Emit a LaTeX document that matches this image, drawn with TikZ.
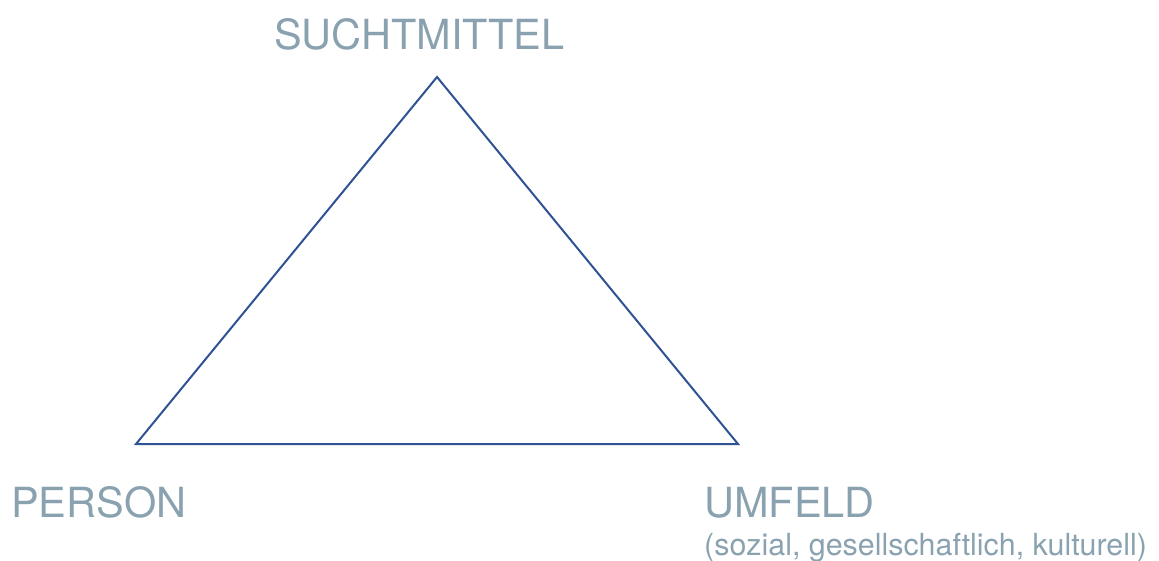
\documentclass[tikz,border=0pt]{standalone}
\usepackage{fontspec}
\setmainfont{TeX Gyre Heros}
\definecolor{labelgray}{HTML}{8AA2B0}
\definecolor{lineblue}{HTML}{2F5294}
\begin{document}
\begin{tikzpicture}[x=1pt,y=-1pt,
  biglabel/.style={inner sep=0pt,anchor=base west,text=labelgray,font=\fontsize{41.5}{48}\selectfont},
  smalllabel/.style={inner sep=0pt,anchor=base west,text=labelgray,font=\fontsize{30.4}{36}\selectfont},
  edge/.style={draw=lineblue,line width=2pt,line join=miter}]
\useasboundingbox (0,0) rectangle (1159,560);
\coordinate (apex) at (437,77);
\coordinate (left) at (136,444);
\coordinate (right) at (738,444);
\draw[edge] (apex) -- (right) -- (left) -- cycle;
\node[biglabel] (sucht) at (274,49) {SUCHTMITTEL};
\node[biglabel] (person) at (11,517) {PERSON};
\node[biglabel] (umfeld) at (704,517) {UMFELD};
\node[smalllabel] (sub) at (704,555) {(sozial, gesellschaftlich, kulturell)};
\end{tikzpicture}
\end{document}
